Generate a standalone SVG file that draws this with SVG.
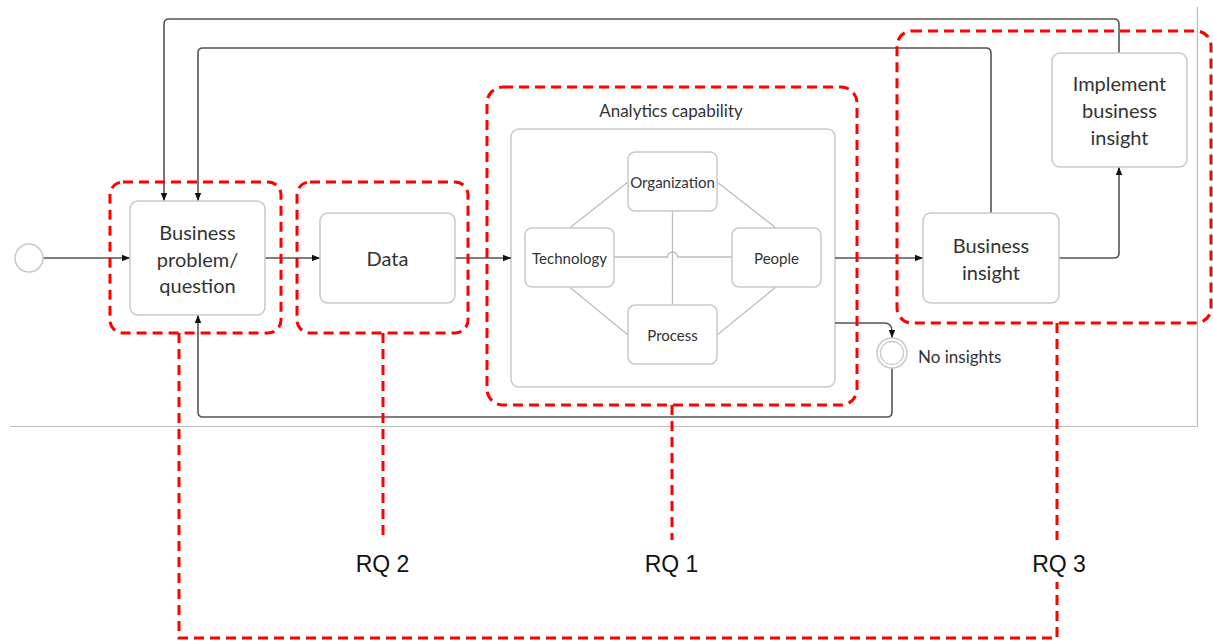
<svg xmlns="http://www.w3.org/2000/svg" width="1213" height="641" viewBox="0 0 1213 641">
<defs>
<style>
.node{fill:#fff;stroke:#c9c9c9;stroke-width:1.5}
.t{font-family:Lato,"Open Sans","Liberation Sans",sans-serif;fill:#333;text-anchor:middle;dominant-baseline:central}
.big{font-size:20px}
.mid{font-size:17px}
.sm{font-size:15px}
.conn{fill:none;stroke:#555;stroke-width:1.6}
.inner{fill:none;stroke:#bdbdbd;stroke-width:1.3}
.red{fill:none;stroke:#ff0000;stroke-width:3;stroke-dasharray:10 6}
.rq{font-family:"Liberation Sans",Arial,sans-serif;font-size:23px;fill:#111;text-anchor:middle}
.frame{fill:none;stroke:#bbb;stroke-width:1.2}
</style>
<marker id="arr" viewBox="0 0 10 10" refX="10" refY="5" markerWidth="8" markerHeight="8" markerUnits="userSpaceOnUse" orient="auto"><path d="M0,1 L10,5 L0,9z" fill="#111"/></marker>
</defs>
<rect width="1213" height="641" fill="#fff"/>
<path class="frame" d="M10,426.5 H1197.5 V7"/>

<g id="analytics">
<text class="t mid" x="671" y="110">Analytics capability</text>
<rect class="node" x="511" y="129" width="324" height="258" rx="8"/>
</g>

<g id="connectors">
<path class="conn" marker-end="url(#arr)" d="M43,258 H130"/>
<path class="conn" marker-end="url(#arr)" d="M265,258 H320"/>
<path class="conn" marker-end="url(#arr)" d="M455,258 H511"/>
<path class="conn" marker-end="url(#arr)" d="M835,258 H923"/>
<path class="conn" marker-end="url(#arr)" d="M1059,258 H1114 Q1119,258 1119,253 V167"/>
<path class="conn" marker-end="url(#arr)" d="M1119,53 V24 Q1119,19 1114,19 H169 Q164,19 164,24 V201"/>
<path class="conn" marker-end="url(#arr)" d="M991,213 V53 Q991,48 986,48 H203 Q198,48 198,53 V201"/>
<path class="conn" marker-end="url(#arr)" d="M835,323 H884 Q892,323 892,331 V338"/>
<path class="conn" marker-end="url(#arr)" d="M892,368 V412 Q892,417 887,417 H203 Q198,417 198,412 V315"/>
<path class="inner" d="M628,182 L569.5,228 M717,182 L776,228 M569.5,287 L628,335 M776,287 L717,335 M672.5,211 V305 M614,257 H667.5 A5,5 0 0 1 677.5,257 H732"/>
</g>

<g id="start"><circle cx="29" cy="258" r="14" fill="#fff" stroke="#c9c9c9" stroke-width="1.5"/></g>

<g id="business-problem">
<rect class="node" x="130" y="201" width="135" height="114" rx="8"/>
<text class="t big" x="197.5" y="232">Business</text>
<text class="t big" x="197.5" y="258.5">problem/</text>
<text class="t big" x="197.5" y="285">question</text>
</g>

<g id="data">
<rect class="node" x="320" y="213" width="135" height="90" rx="8"/>
<text class="t big" x="387.5" y="258">Data</text>
</g>

<g id="organization">
<rect class="node" x="628" y="152" width="89" height="59" rx="7"/>
<text class="t sm" x="672.5" y="182">Organization</text>
</g>
<g id="technology">
<rect class="node" x="525" y="228" width="89" height="59" rx="7"/>
<text class="t sm" x="569.5" y="257.5">Technology</text>
</g>
<g id="people">
<rect class="node" x="732" y="228" width="89" height="59" rx="7"/>
<text class="t sm" x="776.5" y="257.5">People</text>
</g>
<g id="process">
<rect class="node" x="628" y="305" width="89" height="59" rx="7"/>
<text class="t sm" x="672.5" y="335">Process</text>
</g>

<g id="no-insights">
<circle cx="892" cy="353" r="15" fill="#fff" stroke="#c9c9c9" stroke-width="1.5"/>
<circle cx="892" cy="353" r="11.5" fill="none" stroke="#c9c9c9" stroke-width="1.3"/>
<text class="t mid" x="918" y="356" style="text-anchor:start">No insights</text>
</g>

<g id="business-insight">
<rect class="node" x="923" y="213" width="136" height="90" rx="8"/>
<text class="t big" x="991" y="245">Business</text>
<text class="t big" x="991" y="271.5">insight</text>
</g>

<g id="implement">
<rect class="node" x="1052" y="53" width="135" height="114" rx="8"/>
<text class="t big" x="1119.5" y="83">Implement</text>
<text class="t big" x="1119.5" y="110">business</text>
<text class="t big" x="1119.5" y="136.5">insight</text>
</g>

<g id="rq-markup">
<rect class="red" x="110" y="182" width="171" height="151" rx="13"/>
<rect class="red" x="297" y="182" width="171" height="151" rx="13"/>
<rect class="red" x="487" y="87" width="370" height="318" rx="16"/>
<rect class="red" x="897" y="31" width="314" height="292" rx="15"/>
<path class="red" d="M179,333 V638 H1057 V582"/>
<path class="red" d="M1057,323 V540"/>
<path class="red" d="M383,333 V540"/>
<path class="red" d="M672,405 V540"/>
<text class="rq" x="382.5" y="572">RQ 2</text>
<text class="rq" x="671.5" y="572">RQ 1</text>
<text class="rq" x="1059" y="572">RQ 3</text>
</g>
</svg>
